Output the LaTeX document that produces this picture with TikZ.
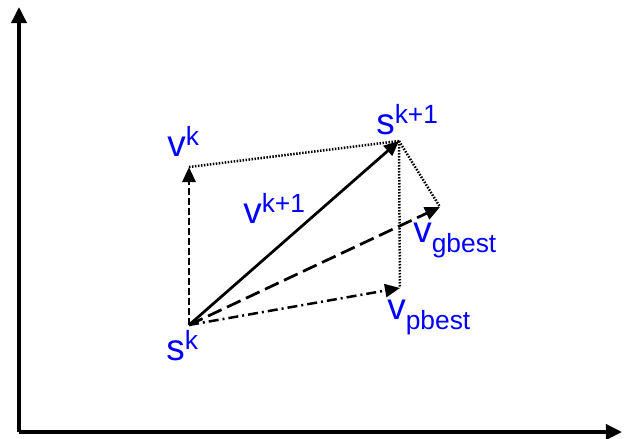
\documentclass[tikz,border=0pt]{standalone}
\usepackage{fontspec}
\setmainfont{Liberation Sans}
\usepackage{tikz}
\usetikzlibrary{arrows.meta}
\newcommand{\vectip}{-{Triangle[length=3mm,width=2.6mm]}}
\newcommand{\axistip}{-{Triangle[length=3.2mm,width=3mm]}}
\newcommand{\supl}[2]{#1\raisebox{6pt}{\fontsize{15}{16}\selectfont #2}}
\newcommand{\subl}[2]{#1\raisebox{-6pt}{\fontsize{15}{16}\selectfont #2}}
\tikzset{
  lbl/.style={text=blue,inner sep=0pt,anchor=base west,font=\fontsize{21}{23}\selectfont},
  dotline/.style={line width=0.5mm,dash pattern=on 0.3mm off 0.3mm},
}

\begin{document}
\begin{tikzpicture}[x=0.2mm,y=-0.2mm]
            \useasboundingbox (0,0) rectangle (625,439);
            \coordinate (O) at (19,432);
            \coordinate (ytop) at (19,7);
            \coordinate (xend) at (622,432);
            \coordinate (sk) at (189,325);
            \coordinate (vk) at (189,167);
            \coordinate (sk1) at (399,141);
            \coordinate (vg) at (440,207);
            \coordinate (vp) at (400,288);
            \draw[line width=0.7mm,\axistip] (O) -- (ytop);
            \draw[line width=0.7mm,\axistip] (O) -- (xend);
            \draw[dotline] (vk) -- (sk1);
            \draw[dotline] (sk1) -- (vg);
            \draw[dotline] (sk1) -- (vp);
            \draw[line width=0.55mm,dash pattern=on 1.4mm off 0.6mm,\vectip] (sk) -- (vk);
            \draw[line width=0.55mm,\vectip] (sk) -- (sk1);
            \draw[line width=0.55mm,dash pattern=on 3mm off 1.2mm,\vectip] (sk) -- (vg);
            \draw[line width=0.5mm,dash pattern=on 2mm off 0.8mm on 0.4mm off 0.8mm,\vectip] (sk) -- (vp);
            \node[lbl] (lsk) at (166,360) {\supl{s}{k}};
            \node[lbl] (lvk) at (167,156) {\supl{v}{k}};
            \node[lbl] (lsk1) at (376,134) {\supl{s}{k+1}};
            \node[lbl] (lvk1) at (243,223) {\supl{v}{k+1}};
            \node[lbl] (lvg) at (413,242) {\subl{v}{gbest}};
            \node[lbl] (lvp) at (387,319) {\subl{v}{pbest}};
        \end{tikzpicture}
\end{document}
